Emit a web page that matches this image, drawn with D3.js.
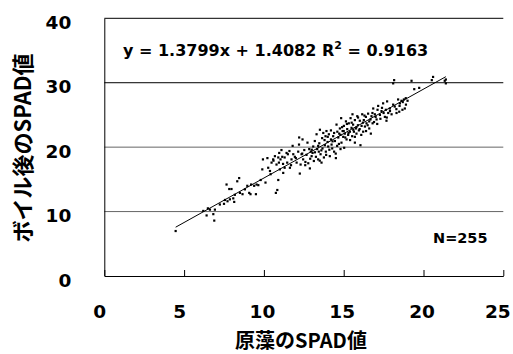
<!DOCTYPE html>
<html>
<head>
<meta charset="utf-8">
<script src="https://cdn.jsdelivr.net/npm/d3@7"></script>
<style>
  body { margin: 0; background: #fff; }
  text { fill: #000; }
</style>
</head>
<body>
<div id="chart"></div>
<script>
// Raw SPAD values (x) and after-boiling SPAD values (y)
const xValues = [
  4.47, 6.2, 6.41, 6.49, 6.62, 6.83, 6.89, 6.93, 7.24, 7.5, 7.56, 7.66, 7.72, 7.83, 7.87, 7.97,
  8.08, 8.14, 8.18, 8.33, 8.45, 8.5, 8.66, 8.81, 8.96, 9.08, 9.16, 9.39, 9.5, 9.54, 9.65, 9.9,
  9.94, 10.1, 10.22, 10.27, 10.38, 10.42, 10.48, 10.58, 10.69, 10.75, 10.79, 10.84, 10.9, 10.94, 10.96, 11.0,
  11.04, 11.1, 11.15, 11.21, 11.3, 11.3, 11.42, 11.46, 11.63, 11.73, 11.8, 11.84, 11.94, 12.05, 12.15, 12.21,
  12.25, 12.3, 12.36, 12.42, 12.46, 12.53, 12.59, 12.67, 12.73, 12.78, 12.84, 12.88, 12.94, 12.99, 13.05, 13.09,
  13.13, 13.19, 13.26, 13.3, 13.34, 13.4, 13.44, 13.47, 13.51, 13.55, 13.61, 13.65, 13.67, 13.72, 13.76, 13.82,
  13.86, 13.88, 13.92, 13.99, 14.03, 14.07, 14.13, 14.2, 14.24, 14.28, 14.34, 14.4, 14.45, 14.51, 14.55, 14.59,
  14.66, 14.72, 14.76, 14.8, 14.84, 14.86, 14.93, 14.97, 15.01, 15.03, 15.07, 15.14, 15.18, 15.22, 15.28, 15.32,
  15.39, 15.43, 15.49, 15.53, 15.55, 15.59, 15.64, 15.7, 15.76, 15.8, 15.85, 15.89, 15.95, 16.01, 16.05, 16.12,
  16.16, 16.22, 16.26, 16.33, 16.39, 16.43, 16.53, 16.6, 16.68, 16.74, 16.81, 16.85, 16.95, 17.06, 17.12, 17.16,
  17.27, 17.37, 17.47, 17.58, 17.64, 17.68, 17.72, 17.79, 17.89, 18.0, 18.1, 18.16, 18.2, 18.31, 18.41, 18.48,
  18.52, 18.62, 18.68, 18.77, 18.83, 18.89, 19.25, 19.42, 19.73, 20.52, 20.6, 21.33, 21.4, 21.4,
  10.6, 10.9, 11.2, 11.5, 11.7, 12.0, 12.4, 12.6, 12.9, 13.0, 13.2, 13.4, 13.5, 13.6, 13.8, 13.9,
  14.0, 14.1, 14.2, 14.3, 14.4, 14.6, 14.7, 14.8, 14.9, 15.0, 15.1, 15.2, 15.3, 15.4, 15.5, 15.6,
  15.7, 15.8, 15.9, 16.0, 16.1, 16.2, 16.3, 16.4, 16.5, 16.6, 16.7, 16.8, 16.9, 17.0, 17.1, 17.3,
  17.4, 17.5, 17.7, 17.9, 18.1, 18.3, 18.5, 18.7, 18.9, 19.0, 9.2, 9.8, 11.6, 12.2, 14.5, 15.7
];
const yValues = [
  6.98, 10.1, 9.4, 10.5, 10.3, 9.6, 8.6, 10.3, 11.1, 11.2, 11.8, 14.2, 11.6, 13.5, 11.9, 13.5,
  12.05, 11.5, 12.6, 14.7, 15.2, 12.9, 12.7, 13.45, 14.0, 12.9, 12.7, 14.0, 12.7, 14.2, 14.1, 16.55,
  18.1, 14.5, 18.3, 16.8, 16.3, 15.8, 17.6, 18.1, 18.6, 12.9, 17.3, 13.35, 14.9, 17.6, 19.1, 16.55,
  18.1, 19.55, 18.5, 16.0, 16.8, 18.4, 19.1, 17.6, 16.8, 18.1, 20.2, 18.9, 18.5, 17.6, 19.3, 21.5,
  15.9, 17.3, 18.9, 21.2, 18.1, 19.55, 17.2, 18.8, 20.7, 17.5, 19.7, 16.7, 19.3, 18.6, 19.1, 20.1,
  17.85, 20.95, 18.5, 22.0, 19.7, 18.1, 19.3, 20.6, 22.7, 18.9, 17.6, 21.4, 19.8, 22.2, 18.4, 20.3,
  21.7, 19.3, 22.5, 20.8, 20.1, 22.0, 18.6, 21.2, 20.4, 19.8, 21.7, 22.2, 20.95, 18.3, 23.5, 20.2,
  21.5, 22.1, 22.9, 19.7, 24.5, 20.7, 22.5, 21.6, 23.3, 19.9, 22.1, 24.0, 21.2, 22.8, 21.9, 23.7,
  22.4, 24.5, 23.0, 21.7, 25.1, 23.5, 22.4, 24.2, 22.9, 22.1, 24.8, 23.4, 22.6, 24.1, 20.3, 23.3,
  25.1, 22.4, 24.2, 23.2, 24.7, 23.7, 25.2, 22.9, 24.3, 24.8, 23.7, 26.0, 25.1, 24.3, 25.8, 26.4,
  25.0, 25.6, 26.8, 24.7, 25.8, 24.1, 27.1, 25.3, 26.0, 25.1, 29.9, 30.4, 26.3, 25.3, 27.4, 25.5,
  26.8, 27.2, 25.8, 27.4, 26.0, 27.6, 30.3, 29.0, 29.2, 30.4, 30.9, 30.3, 29.9, 30.5,
  17.9, 18.4, 17.4, 18.9, 17.2, 18.3, 19.0, 17.7, 18.2, 19.6, 19.2, 20.2, 17.9, 19.5, 21.1, 18.8,
  21.6, 19.6, 22.6, 20.9, 19.3, 22.4, 20.5, 21.9, 23.1, 22.5, 21.5, 23.6, 22.2, 21.1, 23.8, 22.7,
  21.6, 23.1, 24.6, 22.8, 21.9, 23.8, 24.9, 22.5, 23.4, 24.0, 22.1, 25.3, 23.9, 24.7, 23.6, 24.4,
  26.1, 25.3, 24.6, 25.6, 26.6, 25.9, 26.4, 27.0, 26.6, 27.2, 14.2, 14.9, 19.4, 20.4, 19.0, 20.7
];
const xTicks = [0, 5, 10, 15, 20, 25];
const yTicks = [0, 10, 20, 30, 40];
const slope = 1.3799;
const intercept = 1.4082;
const equationText = 'y = 1.3799x + 1.4082 R';
const r2Text = ' = 0.9163';
const nLabel = 'N=255';

const points = xValues.map((x, i) => ({ x: x, y: yValues[i] }));

const width = 513;
const height = 354;

const svg = d3.select('#chart')
    .append('svg')
    .attr('width', width)
    .attr('height', height);

const xScale = d3.scaleLinear().domain([0, 25]).range([104.3, 503.3]);
const yScale = d3.scaleLinear().domain([0, 40]).range([276, 18.3]);

const numFont = 'DejaVu Sans, sans-serif';
const jpFont = '"Noto Sans CJK JP", sans-serif';

// Horizontal gridlines (10..40)
svg.append('g')
    .selectAll('line')
    .data(yTicks.filter(d => d > 0))
    .enter()
    .append('line')
    .attr('x1', xScale(0))
    .attr('x2', xScale(25))
    .attr('y1', d => yScale(d))
    .attr('y2', d => yScale(d))
    .attr('stroke', d => d === 40 || d === 30 ? '#000' : '#666')
    .attr('stroke-width', 1);

// Y axis
const yAxis = d3.axisLeft(yScale).tickValues(yTicks).tickSize(0).tickPadding(33);
const yg = svg.append('g')
    .attr('transform', 'translate(' + xScale(0) + ',0)')
    .call(yAxis);
yg.select('.domain').attr('stroke', '#000');
yg.selectAll('text')
    .attr('font-family', numFont)
    .attr('font-weight', 'bold')
    .attr('font-size', 18.5)
    .attr('dy', '0.55em');

// X axis with inward ticks
const xAxis = d3.axisBottom(xScale).tickValues(xTicks).tickSizeInner(-6).tickSizeOuter(0).tickPadding(29);
const xg = svg.append('g')
    .attr('transform', 'translate(0,' + yScale(0) + ')')
    .call(xAxis);
xg.select('.domain').attr('stroke', '#000');
xg.selectAll('.tick line').attr('stroke', '#000');
xg.selectAll('text')
    .attr('font-family', numFont)
    .attr('font-weight', 'bold')
    .attr('font-size', 18.5)
    .attr('dx', d => d < 10 ? -5 : (d === 25 ? -6 : -2));

// Regression line across the range of the data
const xMin = d3.min(points, d => d.x);
const xMax = d3.max(points, d => d.x);
svg.append('path')
    .datum([xMin, xMax])
    .attr('d', d3.line()
        .x(d => xScale(d))
        .y(d => yScale(slope * d + intercept)))
    .attr('fill', 'none')
    .attr('stroke', '#000')
    .attr('stroke-width', 1);

// Points
svg.append('g')
    .selectAll('rect')
    .data(points)
    .enter()
    .append('rect')
    .attr('x', d => xScale(d.x) - 1.1)
    .attr('y', d => yScale(d.y) - 1.1)
    .attr('width', 2.2)
    .attr('height', 2.2)
    .attr('fill', '#000');

// Equation
const eq = svg.append('text')
    .attr('x', 123)
    .attr('y', 56)
    .attr('font-family', numFont)
    .attr('font-weight', 'bold')
    .attr('font-size', 16)
    .attr('xml:space', 'preserve')
    .style('white-space', 'pre');
eq.append('tspan').text(equationText);
eq.append('tspan').attr('dy', -7).attr('font-size', 11).text('2');
eq.append('tspan').attr('dy', 7).text(r2Text);

svg.append('text')
    .attr('x', 433)
    .attr('y', 243)
    .attr('font-family', numFont)
    .attr('font-weight', 'bold')
    .attr('font-size', 14.5)
    .text(nLabel);

// Axis titles
svg.append('text')
    .attr('transform', 'translate(31,148) rotate(-90)')
    .attr('text-anchor', 'middle')
    .attr('font-family', jpFont)
    .attr('font-weight', 'bold')
    .attr('font-size', 22)
    .text('ボイル後のSPAD値');

svg.append('text')
    .attr('x', 301)
    .attr('y', 348)
    .attr('text-anchor', 'middle')
    .attr('font-family', jpFont)
    .attr('font-weight', 'bold')
    .attr('font-size', 20)
    .text('原藻のSPAD値');
</script>
</body>
</html>
